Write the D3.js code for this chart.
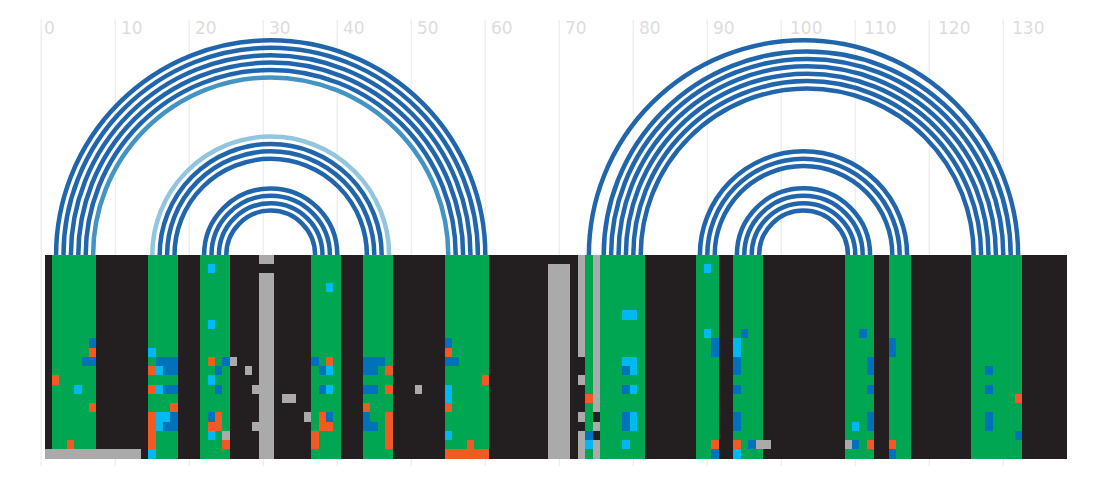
<!DOCTYPE html>
<html><head><meta charset="utf-8">
<script src="https://d3js.org/d3.v7.min.js"></script>
<style>html,body{margin:0;padding:0;background:#fff}svg{display:block}</style>
</head><body><svg id="c" width="1104" height="484"></svg>
<script>
const nCols = 138, nRows = 22;
const axisTicks = d3.range(0, 131, 10);
// stem columns (paired positions)
const stemBlocks = [[1,6],[14,17],[21,24],[36,39],[43,46],[54,59],[73,73],[75,80],[88,90],[93,96],[108,111],[114,116],[125,131]];
// [leftCol, rightCol, strength class]
const arcPairs = [
 [1,59,0],[2,58,0],[3,57,0],[4,56,0],[5,55,0],[6,54,1],
 [14,46,2],[15,45,0],[16,44,0],[17,43,0],
 [21,39,0],[22,38,0],[23,37,0],[24,36,0],
 [73,131,0],[75,130,0],[76,129,0],[77,128,0],[78,127,0],[79,126,0],[80,125,0],
 [88,116,0],[89,115,0],[90,114,0],
 [93,111,0],[94,110,0],[95,109,0],[96,108,0]
];
const arcColors = ["#2166ac","#4393c3","#92c5de"];
// [colFrom,colTo,rowFrom,rowTo]
const grayRuns = [
 [0,12,21,21],[29,30,0,0],[29,30,2,21],[25,25,11,11],[27,27,12,12],[28,28,14,14],[32,33,15,15],[35,35,17,17],[28,28,18,18],[24,24,19,19],
 [50,50,14,14],[68,70,1,21],
 [72,72,0,10],[72,72,13,13],[72,72,17,17],[72,72,19,21],
 [74,74,0,16],[74,74,18,18],[74,74,20,21],
 [96,97,20,20],[108,108,20,20]
];
const blueCells = [
 [6,9],[5,11],[6,11],
 [15,11],[16,11],[17,11],[16,12],[17,12],[16,14],[17,14],[17,17],[16,18],[17,18],
 [24,11],[23,12],[23,14],[22,17],
 [36,11],[37,12],[37,14],[38,17],
 [43,11],[44,11],[45,11],[43,12],[44,12],[43,14],[44,14],[43,17],[43,18],[44,18],
 [54,9],[54,11],[55,11],
 [73,19],[78,12],[78,14],[78,17],[78,18],
 [90,9],[90,10],[90,21],[94,8],[93,11],[93,12],[93,14],[93,17],[93,18],[95,20],
 [110,8],[111,11],[111,12],[111,14],[111,17],[111,18],[109,20],
 [114,9],[114,10],[114,21],[127,12],[127,14],[127,17],[127,18],[131,19]
];
const cyanCells = [
 [4,14],[14,10],[15,12],[15,14],[15,17],[16,17],[15,18],[14,21],
 [22,1],[22,7],[22,13],[22,19],
 [38,3],[38,12],[38,14],
 [54,14],[54,15],[54,19],
 [73,20],[78,6],[79,6],[78,11],[79,11],[79,12],[79,14],[79,17],[79,18],[78,20],
 [89,1],[89,8],[93,9],[93,10],[93,21],[109,18]
];
const orangeCells = [
 [6,10],[1,13],[6,16],[3,20],
 [14,12],[14,14],[17,16],[14,17],[14,18],[14,19],[14,20],
 [22,11],[23,17],[22,18],[23,18],[24,20],
 [38,11],[37,17],[37,18],[38,18],[36,19],[36,20],
 [46,12],[46,14],[43,16],[46,17],[46,18],[46,19],[46,20],
 [54,10],[59,13],[54,16],[57,20],[54,21],[55,21],[56,21],[57,21],[58,21],[59,21],
 [73,15],[90,20],[93,20],[111,20],[114,20],[131,15]
];
const colors = {bg:"#231f20",stem:"#00a651",gray:"#aaaaaa",blue:"#0072bc",cyan:"#00b9f2",orange:"#f15a22"};

const svg = d3.select("#c");
const xAxis = d3.scaleLinear().domain([0,130]).range([41.3,1003.3]);
const xCell = d3.scaleLinear().domain([0,nCols]).range([45.03,1067.33]);
const yCell = d3.scaleLinear().domain([0,nRows]).range([255.3,459.24]);
const X = c => Math.floor(xCell(c)), Y = r => Math.floor(yCell(r));
const baseY = yCell(0) - .3;
const arcX = c => xAxis(c+1);

// grid
svg.append("g").selectAll("line").data(axisTicks).join("line")
  .attr("x1",d=>xAxis(d)).attr("x2",d=>xAxis(d)).attr("y1",20).attr("y2",466)
  .attr("stroke","#eeeeee").attr("stroke-width",1.4);
svg.append("g").selectAll("text").data(axisTicks).join("text")
  .attr("x",d=>xAxis(d)+2.7+3*(String(d).length-1)).attr("y",34.4).text(d=>d)
  .attr("font-family","'DejaVu Sans'").attr("font-size",17).attr("fill","#dddddd");

// arcs
const arcPath = d => {
  const x0 = arcX(d[0]), x1 = arcX(d[1]), r = (x1-x0)/2;
  const p = d3.path(); p.moveTo(x0,baseY); p.arc((x0+x1)/2,baseY,r,Math.PI,0,false); return p.toString();
};
svg.append("g").selectAll("path").data(arcPairs).join("path")
  .attr("d",arcPath).attr("fill","none").attr("stroke",d=>arcColors[d[2]]).attr("stroke-width",4.5);

// heat map
const heat = svg.append("g").attr("shape-rendering","crispEdges");
const block = (c0,c1,r0,r1,col) => heat.append("rect")
  .attr("x",X(c0)).attr("width",X(c1+1)-X(c0)).attr("y",Y(r0)).attr("height",Y(r1+1)-Y(r0)).attr("fill",col);
block(0,nCols-1,0,nRows-1,colors.bg);
stemBlocks.forEach(b=>block(b[0],b[1],0,nRows-1,colors.stem));
grayRuns.forEach(g=>block(g[0],g[1],g[2],g[3],colors.gray));
[[blueCells,colors.blue],[cyanCells,colors.cyan],[orangeCells,colors.orange]].forEach(([list,col])=>{
  list.forEach(c=>block(c[0],c[0],c[1],c[1],col));
});
</script></body></html>
